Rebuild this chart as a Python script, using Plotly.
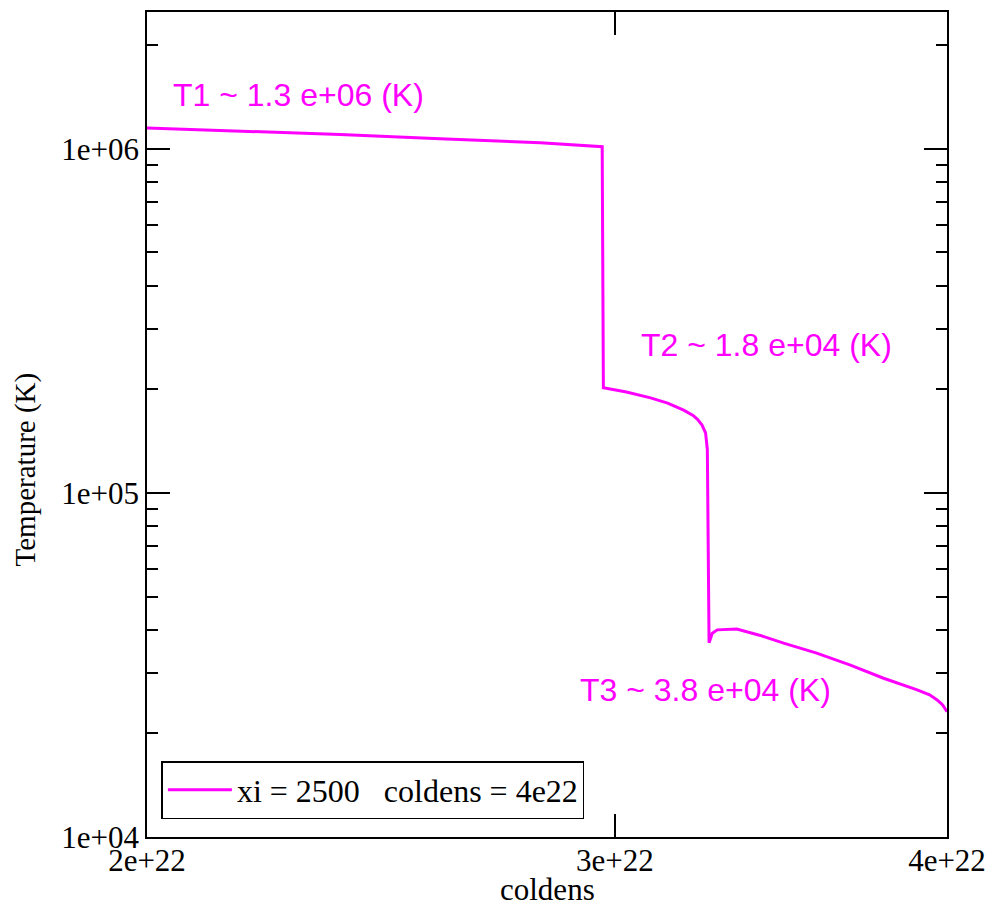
import plotly.graph_objects as go

# Column density (cm^-2) and temperature (K)
coldens = [2.000e22, 2.169e22, 2.364e22, 2.578e22, 2.812e22, 2.967e22,
           2.970e22, 3.030e22, 3.094e22, 3.140e22, 3.184e22, 3.210e22, 3.223e22,
           3.235e22, 3.245e22, 3.250e22,
           3.252e22, 3.2545e22, 3.2548e22, 3.264e22, 3.278e22, 3.334e22,
           3.400e22, 3.472e22, 3.573e22, 3.679e22, 3.786e22, 3.898e22, 3.940e22,
           3.966e22, 3.985e22, 4.000e22]
temperature = [1.150e6, 1.127e6, 1.102e6, 1.071e6, 1.042e6, 1.015e6,
               2.021e5, 1.965e5, 1.890e5, 1.825e5, 1.740e5, 1.680e5, 1.634e5,
               1.575e5, 1.495e5, 1.336e5,
               7.66e4, 3.82e4, 3.67e4, 3.913e4, 4.00e4, 4.02e4,
               3.86e4, 3.66e4, 3.422e4, 3.160e4, 2.894e4, 2.676e4, 2.590e4,
               2.503e4, 2.420e4, 2.314e4]

series_name = "xi = 2500   coldens = 4e22"

x_tickvals = [2e22, 3e22, 4e22]
x_ticktext = ["2e+22", "3e+22", "4e+22"]
y_tickvals = [1e4, 1e5, 1e6]
y_ticktext = ["1e+04", "1e+05", "1e+06"]
y_minor = [m * 10 ** e for e in (4, 5) for m in range(2, 10)] + [2e6]

annotations_text = ["T1 ~ 1.3 e+06 (K)", "T2 ~ 1.8 e+04 (K)", "T3 ~ 3.8 e+04 (K)"]
annotations_pos = [(0.1895, 0.8988), (0.7745, 0.5967), (0.6983, 0.1782)]

MAG = "#ff00ff"
SERIF = "Liberation Serif"
SANS = "Liberation Sans"

fig = go.Figure()
fig.add_trace(go.Scatter(x=coldens, y=temperature, mode="lines",
                         line=dict(color=MAG, width=3), name=series_name,
                         showlegend=True))

for txt, (px, py) in zip(annotations_text, annotations_pos):
    fig.add_annotation(text=txt, x=px, y=py, xref="paper", yref="paper",
                       showarrow=False, xanchor="center", yanchor="middle",
                       font=dict(family=SANS, size=32, color=MAG))

fig.add_annotation(text="Temperature (K)", x=-0.152, y=0.446, xref="paper",
                   yref="paper", showarrow=False, textangle=-90,
                   xanchor="center", yanchor="middle",
                   font=dict(family=SERIF, size=29, color="black"))

fig.add_annotation(text="coldens", x=0.5, y=-0.0872, xref="paper",
                   yref="paper", showarrow=False,
                   xanchor="center", yanchor="bottom",
                   font=dict(family=SERIF, size=31, color="black"))

fig.update_xaxes(type="log", range=[22.30103, 22.60206], automargin=False,
                 tickvals=x_tickvals, ticktext=x_ticktext,
                 ticks="inside", ticklen=23, tickwidth=1.5, tickcolor="black",
                 ticklabelstandoff=-5,
                 showline=True, linecolor="black", linewidth=1.5, mirror="ticks",
                 showgrid=False, zeroline=False,
                 tickfont=dict(family=SERIF, size=31, color="black"))
fig.update_yaxes(type="log", range=[4, 6.39794], automargin=False,
                 tickvals=y_tickvals, ticktext=y_ticktext,
                 ticks="inside", ticklen=23, tickwidth=1.5, tickcolor="black",
                 minor=dict(tickvals=y_minor, ticks="inside", ticklen=11,
                            tickwidth=1.5, tickcolor="black", showgrid=False),
                 showline=True, linecolor="black", linewidth=1.5, mirror="ticks",
                 showgrid=False, zeroline=False,
                 tickfont=dict(family=SERIF, size=31, color="black"))

fig.update_layout(
    width=992, height=909,
    margin=dict(l=147, r=45, t=12, b=72),
    paper_bgcolor="white", plot_bgcolor="white",
    legend=dict(x=0.018, y=0.0218, xanchor="left", yanchor="bottom",
                bgcolor="white", bordercolor="black", borderwidth=1.5,
                font=dict(family=SERIF, size=32, color="black"),
                itemwidth=64, tracegroupgap=0),
)

fig.write_html("out.html")
